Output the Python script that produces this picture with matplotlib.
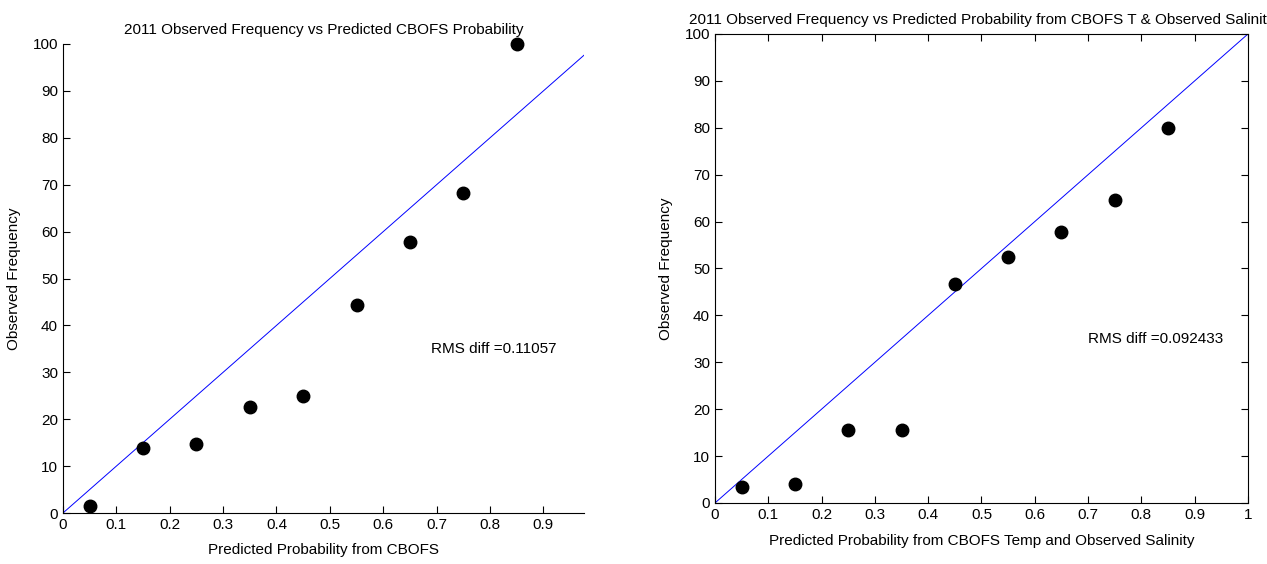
import matplotlib.pyplot as plt

plt.rcParams['font.family'] = ['Liberation Sans Narrow', 'Liberation Sans', 'DejaVu Sans']

# bin centres (predicted probability) and observed frequency (%)
prob = [0.05, 0.15, 0.25, 0.35, 0.45, 0.55, 0.65, 0.75, 0.85]
freq_cbofs = [1.6, 13.8, 14.7, 22.6, 25.0, 44.3, 57.7, 68.2, 100.0]
freq_temp_sal = [3.3, 4.0, 15.6, 15.6, 46.6, 52.5, 57.7, 64.7, 80.0]

rms_cbofs = "RMS diff =0.11057"
rms_temp_sal = "RMS diff =0.092433"

yticks = [0, 10, 20, 30, 40, 50, 60, 70, 80, 90, 100]
xticks_left = [0, 0.1, 0.2, 0.3, 0.4, 0.5, 0.6, 0.7, 0.8, 0.9]
xticks_right = [0, 0.1, 0.2, 0.3, 0.4, 0.5, 0.6, 0.7, 0.8, 0.9, 1]

FS = 11


def fmt(v):
    return "%g" % v


fig = plt.figure(figsize=(12.67, 5.64), dpi=100)

# left panel
ax1 = fig.add_axes([0.0497, 0.0904, 0.4112, 0.8316])
ax1.plot([0, 1], [0, 100], color="blue", lw=0.7)
ax1.plot(prob, freq_cbofs, "o", color="black", ms=9, clip_on=False)
ax1.set_xlim(0, 0.976)
ax1.set_ylim(0, 100)
ax1.set_xticks(xticks_left)
ax1.set_xticklabels([fmt(v) for v in xticks_left])
ax1.set_yticks(yticks)
ax1.set_yticklabels([fmt(v) for v in yticks])
ax1.spines["top"].set_visible(False)
ax1.spines["right"].set_visible(False)
ax1.tick_params(direction="in", length=5, labelsize=FS)
ax1.set_title("2011 Observed Frequency vs Predicted CBOFS Probability", fontsize=FS, pad=7)
ax1.set_xlabel("Predicted Probability from CBOFS", fontsize=FS, labelpad=8)
ax1.set_ylabel("Observed Frequency", fontsize=FS, labelpad=8)
ax1.text(0.69, 35, rms_cbofs, fontsize=FS, va="center")

# right panel
ax2 = fig.add_axes([0.5643, 0.1082, 0.4207, 0.8316])
ax2.plot([0, 1], [0, 100], color="blue", lw=0.7)
ax2.plot(prob, freq_temp_sal, "o", color="black", ms=9, clip_on=False)
ax2.set_xlim(0, 1)
ax2.set_ylim(0, 100)
ax2.set_xticks(xticks_right)
ax2.set_xticklabels([fmt(v) for v in xticks_right])
ax2.set_yticks(yticks)
ax2.set_yticklabels([fmt(v) for v in yticks])
ax2.tick_params(direction="in", length=5, labelsize=FS, top=True, right=True)
ax2.set_title("2011 Observed Frequency vs Predicted Probability from CBOFS T & Observed Salinity",
              fontsize=FS, pad=7)
ax2.set_xlabel("Predicted Probability from CBOFS Temp and Observed Salinity", fontsize=FS, labelpad=9)
ax2.set_ylabel("Observed Frequency", fontsize=FS, labelpad=8)
ax2.text(0.70, 35, rms_temp_sal, fontsize=FS, va="center")

fig.savefig("out.png", dpi=100)
